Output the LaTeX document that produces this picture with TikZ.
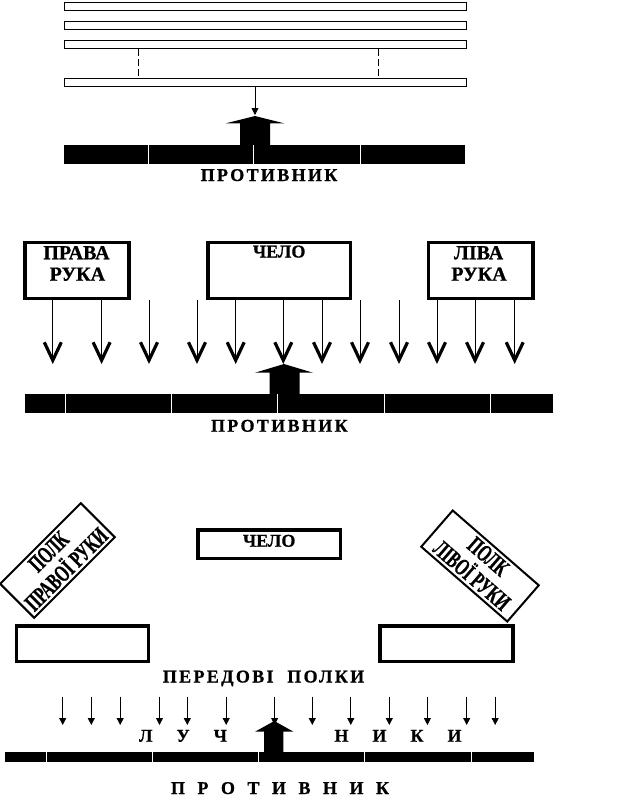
\documentclass[tikz,border=0pt]{standalone}
\usepackage{fontspec}
\setmainfont{Liberation Serif}[BoldFeatures={FakeBold=0.8}]
\newfontfamily\narrowfont{Liberation Serif}[FakeStretch=0.64, BoldFeatures={FakeBold=0.8}]
\usetikzlibrary{arrows.meta}
\tikzset{
  lbl/.style={anchor=base, inner sep=0pt, font=\fontsize{18}{20}\selectfont\bfseries},
  biglbl/.style={anchor=base, inner sep=0pt, font=\fontsize{20}{22}\selectfont\bfseries},
  spaced/.style={anchor=base, inner sep=0pt, font=\fontsize{18}{20}\selectfont\bfseries\addfontfeatures{LetterSpace=#1}},
  wordgap/.style={anchor=base, inner sep=0pt, font=\fontsize{18}{20}\selectfont\bfseries, execute at begin node={\spaceskip=#1\relax}},
  thinbar/.style={draw, line width=1pt, minimum width=402pt, minimum height=8pt, inner sep=0pt},
  enemy/.style={fill=black, inner sep=0pt, outer sep=0pt},
  gap/.style={white, line width=1pt},
  heavybox/.style={draw, line width=3.5pt, inner sep=0pt},
  tiltbox/.style={draw, line width=2pt, inner sep=0pt, minimum width=114pt, minimum height=48pt, align=center, font=\fontsize{24}{25}\narrowfont\bfseries},
  linkdash/.style={line width=1pt, dash pattern=on 7pt off 3pt},
  smallarr/.style={line width=0.8pt, -{Triangle[length=7pt, width=7pt]}},
  vee/.style={line width=0.8pt, -{Straight Barb[length=18pt, width=17pt, line width=3.2pt]}}
}
\begin{document}
\begin{tikzpicture}[x=1pt, y=-1pt]
\useasboundingbox (0,0) rectangle (622,803);
% first scheme
\node[thinbar] (r1) at (265,6) {};
\node[thinbar] (r2) at (265,25) {};
\node[thinbar] (r3) at (265,44.3) {};
\node[thinbar] (r4) at (265,82.8) {};
\draw[linkdash] ([xshift=75.3pt]r3.south west) -- ([xshift=75.3pt]r4.north west);
\draw[linkdash] ([xshift=315.4pt]r3.south west) -- ([xshift=315.4pt]r4.north west);
\fill (226,123.3) -- (255,116) -- (284,123.3) -- (270,123.3) -- (270,145) -- (240,145) -- (240,123.3) -- cycle;
\coordinate (t1) at (255,115);
\draw[smallarr] ([xshift=-10pt]r4.south) -- (t1);
\node[enemy, minimum width=402.5pt, minimum height=19.3pt] (e1) at (264.75,154.65) {};
\foreach \d in {84.5,189.5,296.5,401.5}
  \draw[gap] ([xshift=\d pt]e1.north west) -- ([xshift=\d pt]e1.south west);
\node[spaced=13] (n1) at (269,181) {ПРОТИВНИК};
% second scheme
\node[heavybox, minimum width=104.4pt, minimum height=55.9pt] (prava) at (77,270.4) {};
\node[heavybox, minimum width=142.6pt, minimum height=55.9pt] (chelo) at (279.3,270.4) {};
\node[heavybox, minimum width=104.4pt, minimum height=55.9pt] (liva) at (480.6,270.4) {};
\node[biglbl] (p1) at (76.5,259.3) {ПРАВА};
\node[biglbl] (p2) at (77.4,280.7) {РУКА};
\node[lbl] (c1) at (279.2,257.5) {ЧЕЛО};
\node[biglbl] (l1) at (478.6,259.3) {ЛІВА};
\node[biglbl] (l2) at (479,280.7) {РУКА};
\foreach \x [count=\i] in {52.8,101.6,149,197,235.7,283.3,322,360,399,437,475,514.7}{
  \coordinate (a\i) at (\x,300);
  \coordinate (b\i) at (\x,364);
  \draw[vee] (a\i) -- (b\i);
}
\fill (255,372.7) -- (284,364) -- (313,372.7) -- (299.5,372.7) -- (299.5,394) -- (269.5,394) -- (269.5,372.7) -- cycle;
\node[enemy, minimum width=528.2pt, minimum height=19.3pt] (e2) at (288.7,403.65) {};
\foreach \d in {40.9,146.8,253.2,359.4,465.4}
  \draw[gap] ([xshift=\d pt]e2.north west) -- ([xshift=\d pt]e2.south west);
\node[spaced=13] (n2) at (279.3,431.7) {ПРОТИВНИК};
% third scheme
\node[tiltbox, rotate=45] (pravyi) at (57.5,560.5) {ПОЛК\\ПРАВОЇ РУКИ};
\node[tiltbox, rotate=-41] (livyi) at (480,566) {ПОЛК\\ЛІВОЇ РУКИ};
\node[heavybox, minimum width=142.4pt, minimum height=28.3pt] (chelo3) at (269.2,544.2) {};
\node[lbl] (c3) at (269.2,546.7) {ЧЕЛО};
\node[heavybox, minimum width=131.7pt, minimum height=35.6pt] (peredl) at (82.5,643.8) {};
\node[heavybox, minimum width=133.2pt, minimum height=35.6pt] (peredr) at (446.4,643.8) {};
\node[spaced=13] (pp) at (263.5,682.5) {ПЕРЕДОВІ~~ПОЛКИ};
\foreach \x [count=\i] in {62.7,91.3,120.2,159.5,187.3,226.2,274.6,312.3,350.8,389.3,427.4,466.7,495.2}{
  \coordinate (s\i) at (\x,696.7);
  \coordinate (f\i) at (\x,725);
  \draw[smallarr] (s\i) -- (f\i);
}
\fill (255,731.7) -- (274.3,721) -- (293.5,731.7) -- (283.3,731.7) -- (283.3,752.3) -- (264,752.3) -- (264,731.7) -- cycle;
\node[enemy, minimum width=529pt, minimum height=10pt] (e3) at (269.5,757.3) {};
\foreach \d in {41.7,147.7,253.5,359.3,466}
  \draw[gap] ([xshift=\d pt]e3.north west) -- ([xshift=\d pt]e3.south west);
\node[wordgap=24pt] (lu) at (183,741.7) {Л У Ч};
\node[wordgap=24pt] (nk) at (398,741.7) {Н И К И};
\node[wordgap=12.5pt] (n3) at (280,794) {П Р О Т И В Н И К};
\end{tikzpicture}
\end{document}
